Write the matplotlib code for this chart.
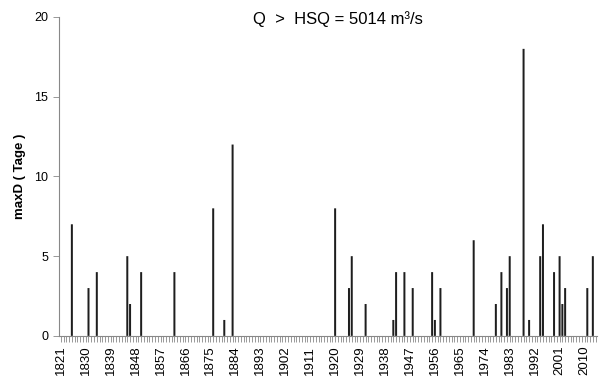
import matplotlib
matplotlib.use("Agg")
import matplotlib.pyplot as plt
import numpy as np

plt.rcParams['font.family'] = ['Liberation Sans', 'DejaVu Sans']

# Years with discharge above HSQ and the maximum duration (days)
years = [1825, 1831, 1834, 1845, 1846, 1850, 1862, 1876, 1880, 1883,
         1920, 1925, 1926, 1931, 1941, 1942, 1945, 1948,
         1955, 1956, 1958, 1970, 1978, 1980, 1982, 1983, 1988, 1990,
         1994, 1995, 1999, 2001, 2002, 2003, 2011, 2013]
max_days = [7, 3, 4, 5, 2, 4, 4, 8, 1, 12,
            8, 3, 5, 2, 1, 4, 4, 3,
            4, 1, 3, 6, 2, 4, 3, 5, 18, 1,
            5, 7, 4, 5, 2, 3, 3, 5]

first_year, last_year = 1821, 2014
label_years = list(range(1821, 2011, 9))
y_ticks = [0, 5, 10, 15, 20]

fig = plt.figure(figsize=(6.0, 3.77), dpi=100)
ax = fig.add_axes([0.099, 0.109, 0.896, 0.846])

bars = ax.bar(years, max_days, width=0.72, color='#1e1e1e', linewidth=0)
for b in bars:
    b.set_snap(False)

ax.set_xlim(first_year - 0.5, last_year + 0.5)
ax.set_ylim(0, 20)

ax.set_xticks(label_years)
ax.set_xticklabels([str(y) for y in label_years], rotation=90, fontsize=9.5)
ax.set_xticks(np.arange(first_year, last_year + 1), minor=True)
ax.tick_params(axis='x', which='both', direction='out', length=4,
               width=0.6, color='#888888', pad=3)
ax.set_yticks(y_ticks)
ax.set_yticklabels([str(v) for v in y_ticks], fontsize=9)
ax.tick_params(axis='y', direction='out', length=4, width=0.6,
               color='#888888', pad=4)

for side in ('top', 'right'):
    ax.spines[side].set_visible(False)
for side in ('left', 'bottom'):
    ax.spines[side].set_color('#888888')
    ax.spines[side].set_linewidth(0.8)

ax.set_ylabel('maxD ( Tage )', fontsize=9.5, fontweight='bold', labelpad=6)

fig.text(338 / 600, 1 - 19 / 377, 'Q  >  HSQ = 5014 m³/s',
         ha='center', va='center', fontsize=12)

fig.savefig('out.png', dpi=100, facecolor='white')
